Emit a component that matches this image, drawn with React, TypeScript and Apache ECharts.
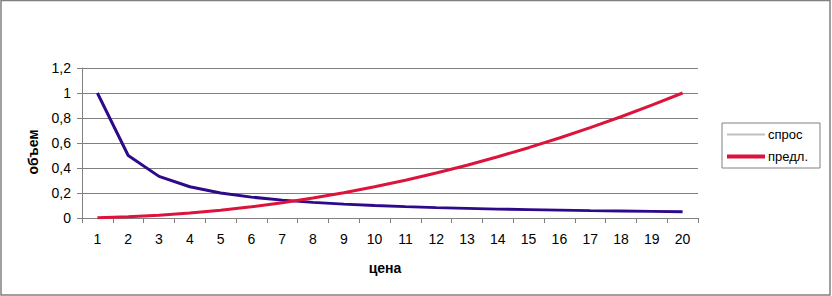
import React, { useEffect, useRef } from "react";
import * as echarts from "echarts";

const categories = ["1","2","3","4","5","6","7","8","9","10","11","12","13","14","15","16","17","18","19","20"];
const demand = [1, 0.5, 0.333, 0.25, 0.2, 0.167, 0.143, 0.125, 0.111, 0.1, 0.091, 0.083, 0.077, 0.071, 0.067, 0.063, 0.059, 0.056, 0.053, 0.05];
const supply = [0.0025, 0.01, 0.0225, 0.04, 0.0625, 0.09, 0.1225, 0.16, 0.2025, 0.25, 0.3025, 0.36, 0.4225, 0.49, 0.5625, 0.64, 0.7225, 0.81, 0.9025, 1.0];
const seriesNames = ["спрос", "предл."];
const xTitle = "цена";
const yTitle = "объем";

const FONT = "Liberation Sans, Arial, sans-serif";

export default function App() {
  const ref = useRef<HTMLDivElement>(null);
  useEffect(() => {
    if (!ref.current) return;
    const chart = echarts.init(ref.current, null, { renderer: "svg" });
    chart.setOption({
      animation: false,
      backgroundColor: "#ffffff",
      textStyle: { fontFamily: FONT },
      grid: { left: 82, right: 134, top: 68, bottom: 78 },
      xAxis: {
        type: "category",
        data: categories,
        boundaryGap: true,
        axisLine: { show: true, lineStyle: { color: "#808080", width: 1 } },
        axisTick: { show: true, length: 5, interval: 0, lineStyle: { color: "#808080" } },
        axisLabel: { color: "#000", fontSize: 14, margin: 14, interval: 0, fontFamily: FONT },
        splitLine: { show: false },
      },
      yAxis: {
        type: "value",
        min: 0,
        max: 1.2,
        interval: 0.2,
        axisLine: { show: true, lineStyle: { color: "#808080", width: 1 } },
        axisTick: { show: true, length: 5, lineStyle: { color: "#808080" } },
        axisLabel: {
          color: "#000",
          fontSize: 14,
          margin: 11,
          fontFamily: FONT,
          formatter: (v: number) => String(Math.round(v * 10) / 10).replace(".", ","),
        },
        splitLine: { show: true, lineStyle: { color: "#808080", width: 1 } },
      },
      legend: {
        orient: "vertical",
        left: 722,
        top: 123,
        padding: [5, 12, 5, 5],
        itemGap: 9,
        itemWidth: 38,
        itemHeight: 14,
        symbolKeepAspect: true,
        borderColor: "#808080",
        borderWidth: 1,
        textStyle: { color: "#000", fontSize: 13, fontFamily: FONT, padding: [0, 0, 0, -2] },
        data: [
          { name: seriesNames[0], icon: "path://M0,0 H38 V2 H0 Z", itemStyle: { color: "#c0c0c0", borderWidth: 0 } },
          { name: seriesNames[1], icon: "path://M0,0 H38 V4 H0 Z", itemStyle: { color: "#dc143c", borderWidth: 0 } },
        ],
      },
      series: [
        {
          name: seriesNames[0],
          type: "line",
          data: demand,
          symbol: "none",
          lineStyle: { color: "#2e0a8a", width: 3 },
          itemStyle: { color: "#2e0a8a" },
        },
        {
          name: seriesNames[1],
          type: "line",
          data: supply,
          symbol: "none",
          lineStyle: { color: "#dc143c", width: 3 },
          itemStyle: { color: "#dc143c" },
        },
      ],
      graphic: [
        {
          type: "rect",
          shape: { x: 1, y: 0.5, width: 829, height: 294.5 },
          style: { fill: "none", stroke: "#808080", lineWidth: 1.5 },
          silent: true,
        },
        {
          type: "text",
          x: 33,
          y: 152,
          rotation: Math.PI / 2,
          style: {
            text: yTitle,
            fontSize: 14,
            fontWeight: "bold",
            fontFamily: FONT,
            fill: "#000",
            align: "center",
            verticalAlign: "middle",
          },
        },
        {
          type: "text",
          x: 385,
          y: 268,
          style: {
            text: xTitle,
            fontSize: 14,
            fontWeight: "bold",
            fontFamily: FONT,
            fill: "#000",
            align: "center",
            verticalAlign: "middle",
          },
        },
      ],
    });
    return () => chart.dispose();
  }, []);
  return (
    <div
      ref={ref}
      style={{ position: "fixed", left: 0, top: 0, width: 832, height: 296 }}
    />
  );
}
